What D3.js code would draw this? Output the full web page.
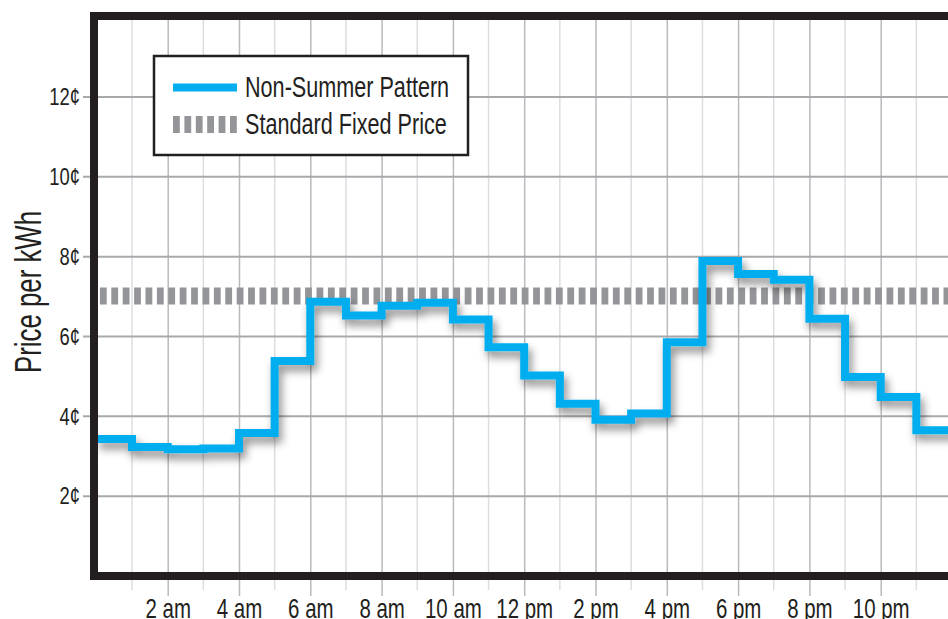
<!DOCTYPE html>
<html>
<head>
<meta charset="utf-8">
<script src="https://cdn.jsdelivr.net/npm/d3@7"></script>
<style>
  html, body { margin: 0; padding: 0; background: #fff; overflow: hidden; }
  svg text { font-family: "Liberation Sans", Arial, sans-serif; fill: #231f20; }
</style>
</head>
<body>
<div id="chart"></div>
<script>
// hourly prices (cents per kWh), step starts at each hour
const hours = [0, 1, 2, 3, 4, 5, 6, 7, 8, 9, 10, 11, 12, 13, 14, 15, 16, 17, 18, 19, 20, 21, 22, 23];
const nonSummer = [3.42, 3.22, 3.16, 3.18, 3.57, 5.37, 6.86, 6.51, 6.76, 6.83, 6.41, 5.72,
                   5.01, 4.30, 3.90, 4.06, 5.84, 7.88, 7.55, 7.41, 6.43, 4.97, 4.47, 3.64];
const fixedPrice = 7;
const yTicks = [2, 4, 6, 8, 10, 12];
const xMajor = [2, 4, 6, 8, 10, 12, 14, 16, 18, 20, 22];
const xMajorLabels = ["2 am", "4 am", "6 am", "8 am", "10 am", "12 pm", "2 pm", "4 pm", "6 pm", "8 pm", "10 pm"];
const xMinor = [1, 3, 5, 7, 9, 11, 13, 15, 17, 19, 21, 23];
const legendItems = ["Non-Summer Pattern", "Standard Fixed Price"];

// squeeze text horizontally to mimic a condensed face
function condense(sel, k) {
  sel.each(function() {
    const w = this.getComputedTextLength();
    d3.select(this)
      .attr("textLength", w * k)
      .attr("lengthAdjust", "spacingAndGlyphs");
  });
}

function renderChart() {
  const svg = d3.select("#chart")
    .append("svg")
    .attr("width", 948)
    .attr("height", 619);

  const x = d3.scaleLinear().domain([0, 24]).range([96.4, 952]);
  const y = d3.scaleLinear().domain([0, 14]).range([575.5, 16.6]);

  // drop shadow for the price line
  const defs = svg.append("defs");
  const f = defs.append("filter").attr("id", "shadow")
    .attr("x", "-10%").attr("y", "-10%").attr("width", "130%").attr("height", "140%");
  f.append("feDropShadow")
    .attr("dx", 3).attr("dy", 6).attr("stdDeviation", 4.5)
    .attr("flood-color", "#000").attr("flood-opacity", 0.45);

  // vertical grid, minor (odd hours) lighter
  svg.append("g").selectAll("line")
    .data(xMinor).enter().append("line")
    .attr("x1", d => x(d)).attr("x2", d => x(d))
    .attr("y1", y(14)).attr("y2", 590)
    .attr("stroke", "#dcdddf").attr("stroke-width", 1.5);

  // x axis with major ticks running up as grid lines
  const xAxis = svg.append("g")
    .attr("transform", "translate(0, 596)")
    .call(d3.axisBottom(x)
      .tickValues(xMajor)
      .tickSize(-(596 - y(14)))
      .tickPadding(2)
      .tickFormat((d, i) => xMajorLabels[i]));
  xAxis.select(".domain").remove();
  xAxis.selectAll(".tick line").attr("stroke", "#b9babc").attr("stroke-width", 1.5);
  xAxis.selectAll(".tick text")
    .attr("y", 22)
    .attr("dy", 0)
    .style("font-size", "28px")
    .call(condense, 0.73);

  // y axis with grid lines
  const yAxis = svg.append("g")
    .attr("transform", "translate(83, 0)")
    .call(d3.axisLeft(y)
      .tickValues(yTicks)
      .tickSize(-(952 - 83))
      .tickPadding(3)
      .tickFormat(d => d + "¢"));
  yAxis.select(".domain").remove();
  yAxis.selectAll(".tick line").attr("stroke", "#a7a9ac").attr("stroke-width", 2);
  yAxis.selectAll(".tick text")
    .attr("x", -3)
    .attr("dy", "0.36em")
    .style("font-size", "23px")
    .call(condense, 0.8);

  // standard fixed price
  svg.append("line")
    .attr("x1", x(0) + 3.5).attr("x2", x(24))
    .attr("y1", y(fixedPrice)).attr("y2", y(fixedPrice))
    .attr("stroke", "#939598")
    .attr("stroke-width", 17)
    .attr("stroke-dasharray", "6.8 4.6");

  // non-summer step line
  const pts = hours.map((h, i) => [h, nonSummer[i]]);
  pts.push([24, nonSummer[nonSummer.length - 1]]);
  svg.append("path")
    .datum(pts)
    .attr("fill", "none")
    .attr("stroke", "#00aeef")
    .attr("stroke-width", 8)
    .attr("stroke-linejoin", "miter")
    .attr("filter", "url(#shadow)")
    .attr("d", d3.line()
      .x(d => x(d[0]))
      .y(d => y(d[1]))
      .curve(d3.curveStepAfter));

  // plot frame
  svg.append("rect")
    .attr("x", 94).attr("y", 16)
    .attr("width", 962 - 94).attr("height", 576 - 16)
    .attr("fill", "none")
    .attr("stroke", "#231f20")
    .attr("stroke-width", 8);

  // legend
  const lg = svg.append("g");
  lg.append("rect")
    .attr("x", 154).attr("y", 56)
    .attr("width", 314).attr("height", 99)
    .attr("fill", "#fff")
    .attr("stroke", "#231f20")
    .attr("stroke-width", 2.5);
  lg.append("line")
    .attr("x1", 173).attr("x2", 237)
    .attr("y1", 87.5).attr("y2", 87.5)
    .attr("stroke", "#00aeef").attr("stroke-width", 8);
  lg.append("line")
    .attr("x1", 173).attr("x2", 237)
    .attr("y1", 124.5).attr("y2", 124.5)
    .attr("stroke", "#939598").attr("stroke-width", 17)
    .attr("stroke-dasharray", "6.8 4.6");
  lg.selectAll(".lgtext")
    .data(legendItems).enter().append("text")
    .attr("class", "lgtext")
    .attr("x", 245)
    .attr("y", (d, i) => 97 + i * 37)
    .style("font-size", "29px")
    .text(d => d)
    .call(condense, 0.745);

  // y axis label
  svg.append("text")
    .attr("transform", "translate(41, 292) rotate(-90)")
    .attr("text-anchor", "middle")
    .style("font-size", "36px")
    .text("Price per kWh")
    .call(condense, 0.717);
}

document.addEventListener('DOMContentLoaded', function() {
  renderChart();
});
</script>
</body>
</html>
